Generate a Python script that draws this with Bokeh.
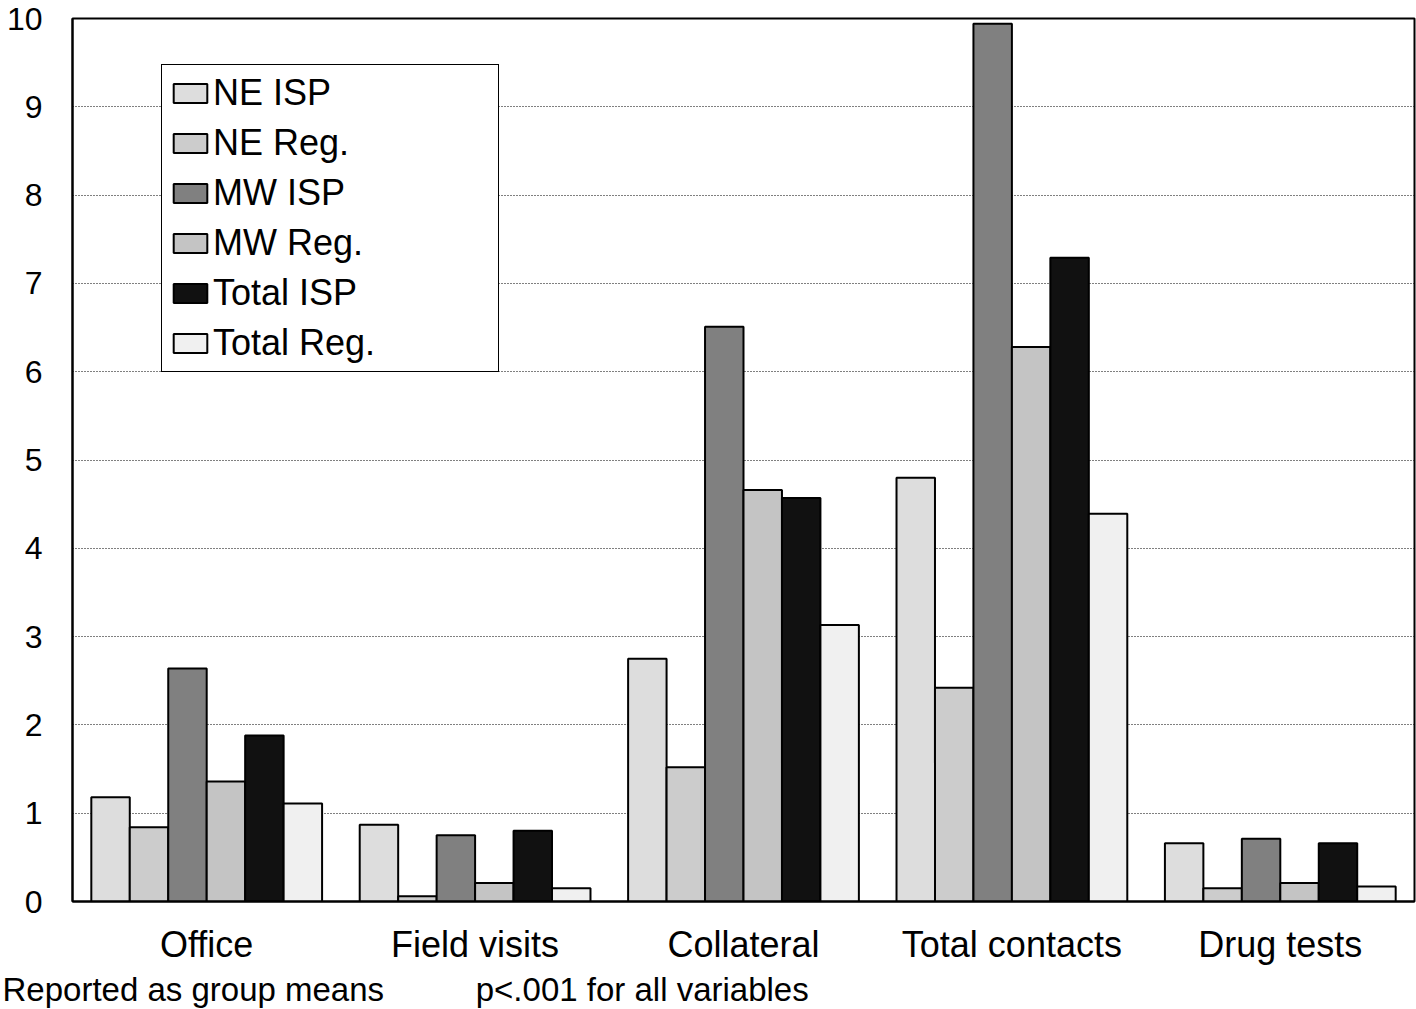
from bokeh.plotting import figure
from bokeh.models import FactorRange, Range1d, Legend, FixedTicker, Title
from bokeh.transform import dodge
from bokeh.embed import file_html
from bokeh.resources import INLINE

categories = ["Office", "Field visits", "Collateral", "Total contacts", "Drug tests"]
series_names = ["NE ISP", "NE Reg.", "MW ISP", "MW Reg.", "Total ISP", "Total Reg."]
ne_isp = [1.18, 0.87, 2.75, 4.80, 0.66]
ne_reg = [0.84, 0.06, 1.52, 2.42, 0.15]
mw_isp = [2.64, 0.75, 6.51, 9.94, 0.71]
mw_reg = [1.36, 0.21, 4.66, 6.28, 0.21]
total_isp = [1.88, 0.80, 4.57, 7.29, 0.66]
total_reg = [1.11, 0.15, 3.13, 4.39, 0.17]
y_ticks = [0, 1, 2, 3, 4, 5, 6, 7, 8, 9, 10]
footer_left = "Reported as group means"
footer_right = "p<.001 for all variables"

series_values = [ne_isp, ne_reg, mw_isp, mw_reg, total_isp, total_reg]
colors = ["#dddddd", "#cccccc", "#808080", "#c4c4c4", "#111111", "#f0f0f0"]

FONT = "Liberation Sans"

p = figure(width=1416, height=1009, x_range=FactorRange(*categories), y_range=Range1d(0, 10),
           output_backend="svg", toolbar_location=None,
           min_border_left=72, min_border_right=2, min_border_top=18, min_border_bottom=108)
p.background_fill_color = "white"
p.border_fill_color = "white"
p.outline_line_color = "black"
p.outline_line_width = 2
p.x_range.range_padding = 0
p.x_range.group_padding = 0

data = {"cat": categories}
for name, vals in zip(series_names, series_values):
    data[name] = vals

bar_w = 0.1433
renderers = []
for i, (name, col) in enumerate(zip(series_names, colors)):
    off = (i - 2.5) * bar_w
    r = p.vbar(x=dodge("cat", off, range=p.x_range), top=name, width=bar_w, source=data,
               fill_color=col, line_color="black", line_width=2)
    renderers.append((name, [r]))

legend = Legend(items=renderers, location=(89, 529))
legend.border_line_color = "black"
legend.border_line_width = 1.5
legend.border_line_alpha = 1
legend.background_fill_alpha = 1
legend.label_text_font = FONT
legend.label_text_font_size = "36px"
legend.label_text_color = "black"
legend.glyph_width = 42
legend.glyph_height = 24
legend.label_height = 40
legend.label_width = 278
legend.spacing = 8
legend.padding = 7
legend.margin = 0
legend.label_standoff = 2
p.add_layout(legend, "center")

p.xgrid.grid_line_color = None
p.ygrid.grid_line_color = "black"
p.ygrid.grid_line_dash = "1 2"
p.ygrid.grid_line_width = 1
p.ygrid.ticker = FixedTicker(ticks=y_ticks)

p.yaxis.ticker = FixedTicker(ticks=y_ticks)
for ax in (p.xaxis[0], p.yaxis[0]):
    ax.axis_line_width = 2
    ax.axis_line_color = "black"
    ax.major_tick_line_color = None
    ax.minor_tick_line_color = None
    ax.major_tick_out = 0
    ax.major_tick_in = 0
    ax.minor_tick_out = 0
    ax.major_label_text_font = FONT
    ax.major_label_text_color = "black"
p.yaxis.major_label_text_font_size = "32px"
p.yaxis.major_label_standoff = 30
p.xaxis.major_label_text_font_size = "36px"
p.xaxis.major_label_standoff = 22
p.xaxis.group_text_font_size = "0px"

gap = "\u00a0" * 10
footer = Title(text=footer_left + gap + footer_right, align="left", offset=-70,
               text_font=FONT, text_font_size="33px", text_font_style="normal",
               text_color="black", standoff=3)
p.add_layout(footer, "below")

open("out.html", "w").write(file_html(p, INLINE))
